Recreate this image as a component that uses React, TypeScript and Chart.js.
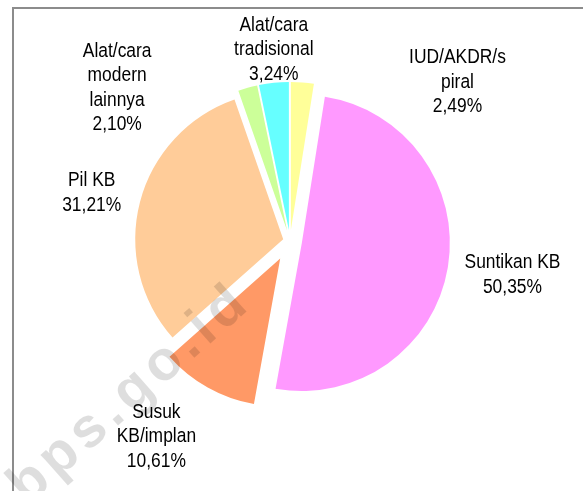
import React, { useEffect, useRef } from "react";
import { Chart, registerables } from "chart.js";

Chart.register(...registerables);

// ---- data ----
const categories: string[][] = [
  ["IUD/AKDR/s", "piral"],
  ["Suntikan KB"],
  ["Susuk", "KB/implan"],
  ["Pil KB"],
  ["Alat/cara", "modern", "lainnya"],
  ["Alat/cara", "tradisional"],
];
const percentages: number[] = [2.49, 50.35, 10.61, 31.21, 2.1, 3.24];

// ---- styles ----
const sliceColors: string[] = ["#FFFF99", "#FF99FF", "#FF9966", "#FFCC99", "#CCFF99", "#66FFFF"];
const explodePx: number[] = [11, 12, 20, 7, 11, 11];
const labelDistance: number[] = [231, 225, 237, 204, 231, 192];
const labelAngleShiftDeg: number[] = [42, -1, 5, -1, -33, 1];

const PIE_RADIUS = 148;
const FONT_SIZE = 20.5;
const NARROW = 0.85;
const LINE_H = 24.5;

const fmtPct = (v: number) => v.toFixed(2).replace(".", ",") + "%";

const decorPlugin = {
  id: "pieDecor",
  afterDatasetsUpdate(chart: any) {
    const meta = chart.getDatasetMeta(0);
    meta.data.forEach((arc: any, i: number) => {
      const mid = (arc.startAngle + arc.endAngle) / 2;
      arc.x += explodePx[i] * Math.cos(mid);
      arc.y += explodePx[i] * Math.sin(mid);
    });
  },
  afterDatasetsDraw(chart: any) {
    const ctx: CanvasRenderingContext2D = chart.ctx;
    const area = chart.chartArea;
    const cx = (area.left + area.right) / 2;
    const cy = (area.top + area.bottom) / 2;

    // watermark
    ctx.save();
    ctx.translate(128, 396);
    ctx.rotate((-41.6 * Math.PI) / 180);
    ctx.font = 'bold 56px "Liberation Sans", Arial, sans-serif';
    (ctx as any).letterSpacing = "6px";
    ctx.textAlign = "center";
    ctx.textBaseline = "middle";
    ctx.fillStyle = "rgba(0,0,0,0.13)";
    ctx.fillText("bps.go.id", 3, 0);
    ctx.restore();

    // data labels
    const meta = chart.getDatasetMeta(0);
    const labels = chart.data.labels as string[][];
    const values = chart.data.datasets[0].data as number[];
    meta.data.forEach((arc: any, i: number) => {
      const mid = (arc.startAngle + arc.endAngle) / 2 + (labelAngleShiftDeg[i] * Math.PI) / 180;
      const ax = cx + labelDistance[i] * Math.cos(mid);
      const ay = cy + labelDistance[i] * Math.sin(mid);
      const lines = [...labels[i], fmtPct(values[i])];
      const y0 = ay - ((lines.length - 1) * LINE_H) / 2;
      ctx.save();
      ctx.fillStyle = "#000000";
      ctx.font = `${FONT_SIZE}px "Liberation Sans", Arial, sans-serif`;
      ctx.textAlign = "center";
      ctx.textBaseline = "middle";
      lines.forEach((line, k) => {
        ctx.save();
        ctx.translate(ax, y0 + k * LINE_H);
        ctx.scale(NARROW, 1);
        ctx.fillText(line, 0, 0);
        ctx.restore();
      });
      ctx.restore();
    });
  },
};

export default function App() {
  const canvasRef = useRef<HTMLCanvasElement | null>(null);

  useEffect(() => {
    if (!canvasRef.current) return;
    const chart = new Chart(canvasRef.current, {
      type: "pie",
      data: {
        labels: categories,
        datasets: [
          {
            data: percentages,
            backgroundColor: sliceColors,
            borderWidth: 0,
          },
        ],
      },
      options: {
        responsive: false,
        animation: false,
        radius: PIE_RADIUS,
        layout: { padding: { left: 0, top: 0, right: 3, bottom: 9 } },
        plugins: {
          legend: { display: false },
          tooltip: { enabled: false },
        },
        events: [],
      } as any,
      plugins: [decorPlugin],
    });
    return () => chart.destroy();
  }, []);

  return (
    <div style={{ position: "absolute", left: 0, top: 0, width: 583, height: 491, overflow: "hidden", background: "#ffffff" }}>
      <div
        style={{
          position: "absolute",
          left: 12,
          top: 7,
          width: 620,
          height: 520,
          borderTop: "2px solid #8c8c8c",
          borderLeft: "2px solid #8c8c8c",
        }}
      />
      <canvas
        ref={canvasRef}
        width={583}
        height={491}
        style={{ position: "absolute", left: 0, top: 0, width: 583, height: 491 }}
      />
    </div>
  );
}
